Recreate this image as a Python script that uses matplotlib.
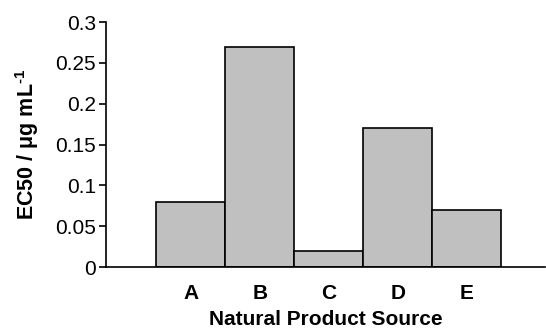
import numpy as np
from matplotlib import pyplot as plt

plt.rcParams['font.family'] = ['Liberation Sans', 'DejaVu Sans']
plt.rcParams['mathtext.fontset'] = 'custom'
plt.rcParams['mathtext.rm'] = 'Liberation Sans'
plt.rcParams['mathtext.bf'] = 'Liberation Sans:bold'

sources = ['A', 'B', 'C', 'D', 'E']
ec50 = [0.08, 0.27, 0.02, 0.17, 0.07]
yticks = [0, 0.05, 0.1, 0.15, 0.2, 0.25, 0.3]
ytick_labels = ['0', '0.05', '0.1', '0.15', '0.2', '0.25', '0.3']

fig = plt.figure(figsize=(5.46, 3.29), dpi=100)
ax = fig.add_axes([0.194, 0.188, 0.805, 0.745])

x = np.arange(len(sources))
ax.bar(x, ec50, width=1.0, color='#c0c0c0', edgecolor='black', linewidth=1.2, zorder=2)

ax.set_xlim(-1.23, 5.14)
ax.set_ylim(0, 0.3)
ax.set_xticks(x)
ax.set_xticklabels(sources, fontsize=15, fontweight='bold')
ax.tick_params(axis='x', length=0, pad=12)
ax.set_yticks(yticks)
ax.set_yticklabels(ytick_labels, fontsize=15)
ax.tick_params(axis='y', direction='out', length=5, width=1.2, pad=2)

ax.spines['top'].set_visible(False)
ax.spines['right'].set_visible(False)
ax.spines['left'].set_linewidth(1.2)
ax.spines['bottom'].set_linewidth(1.2)

ax.set_xlabel('Natural Product Source', fontsize=15, fontweight='bold', labelpad=5)
ax.set_ylabel('EC50 / μg mL$^{\\mathbf{\u2010}\\mathbf{1}}$', fontsize=15.5, fontweight='bold', labelpad=10)

fig.savefig('out.png', dpi=100)
